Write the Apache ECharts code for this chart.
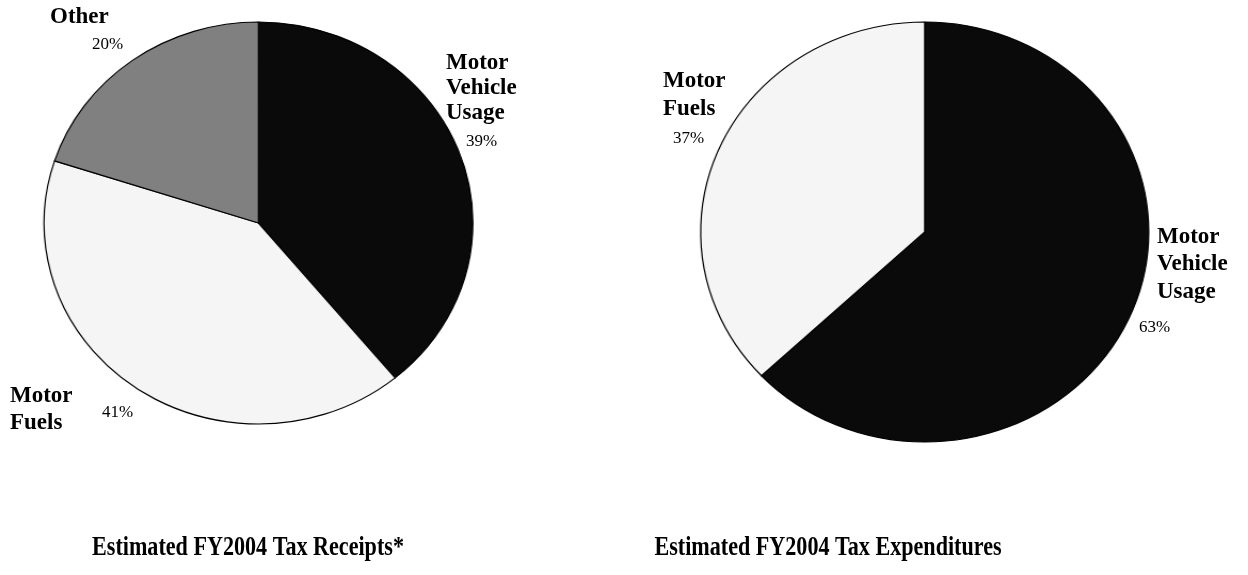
<!DOCTYPE html>
<html>
<head>
<meta charset="utf-8">
<script src="https://cdn.jsdelivr.net/npm/echarts@6/dist/echarts.min.js"></script>
<style>
html,body{margin:0;padding:0;background:#fff;}
#pies{position:absolute;left:0;top:0;width:1170px;height:575px;transform:scaleX(1.0667);transform-origin:0 0;}
#texts{position:absolute;left:0;top:0;width:1248px;height:575px;}
</style>
</head>
<body>
<div id="pies"></div>
<div id="texts"></div>
<script>
// ---- data ----
const receiptNames = ['Motor Vehicle Usage', 'Motor Fuels', 'Other'];
const receiptValues = [39, 41, 20];
const expenditureNames = ['Motor Vehicle Usage', 'Motor Fuels'];
const expenditureValues = [63, 37];
const chartTitles = ['Estimated FY2004 Tax Receipts*', 'Estimated FY2004 Tax Expenditures'];

// ---- styles / layout (kept apart from data) ----
const sliceColors = {'Motor Vehicle Usage': '#0a0a0a', 'Motor Fuels': '#f5f5f5', 'Other': '#808080'};
const serif = 'Liberation Serif';
// label positions: [nameX, nameTop, pctX, pctMiddle, lineHeight]
const receiptLabelPos = [[446, 51, 466, 142, 25], [10, 383, 102, 413, 27], [50, 4, 92, 45, 27]];
const expenditureLabelPos = [[1157, 223, 1139, 328, 27.5], [663, 67, 673, 139, 28]];
const titlePos = [[248, 548], [828, 548]];

function toData(names, values) {
  return names.map((n, i) => ({name: n, value: values[i], itemStyle: {color: sliceColors[n]}}));
}

const pieChart = echarts.init(document.getElementById('pies'), null, {renderer: 'canvas'});
const pieCommon = {
  type: 'pie', startAngle: 90, clockwise: true, silent: true,
  label: {show: false}, labelLine: {show: false},
  itemStyle: {borderColor: '#000', borderWidth: 1.2},
  emphasis: {disabled: true}
};
pieChart.setOption({
  animation: false,
  series: [
    Object.assign({}, pieCommon, {center: [242.3, 223], radius: 201, data: toData(receiptNames, receiptValues)}),
    Object.assign({}, pieCommon, {center: [866.9, 232], radius: 210, data: toData(expenditureNames, expenditureValues)})
  ]
});

const textChart = echarts.init(document.getElementById('texts'), null, {renderer: 'canvas'});
const graphics = [];
function addLabels(names, values, pos) {
  names.forEach((n, i) => {
    const p = pos[i];
    graphics.push({type: 'text', x: p[0], y: p[1], silent: true,
      style: {text: n.split(' ').join('\n'), fontFamily: serif, fontWeight: 'bold', fontSize: 23,
        lineHeight: p[4], fill: '#000', align: 'left', verticalAlign: 'top'}});
    graphics.push({type: 'text', x: p[2], y: p[3], silent: true,
      style: {text: values[i] + '%', fontFamily: serif, fontWeight: 'normal', fontSize: 17, fill: '#000',
        align: 'left', verticalAlign: 'middle'}});
  });
}
addLabels(receiptNames, receiptValues, receiptLabelPos);
addLabels(expenditureNames, expenditureValues, expenditureLabelPos);
chartTitles.forEach((t, i) => {
  graphics.push({type: 'text', x: titlePos[i][0], y: titlePos[i][1], scaleX: 0.79, silent: true,
    style: {text: t, fontFamily: serif, fontWeight: 'bold', fontSize: 28, fill: '#000',
      align: 'center', verticalAlign: 'middle'}});
});

textChart.setOption({animation: false, graphic: graphics});
</script>
</body>
</html>
